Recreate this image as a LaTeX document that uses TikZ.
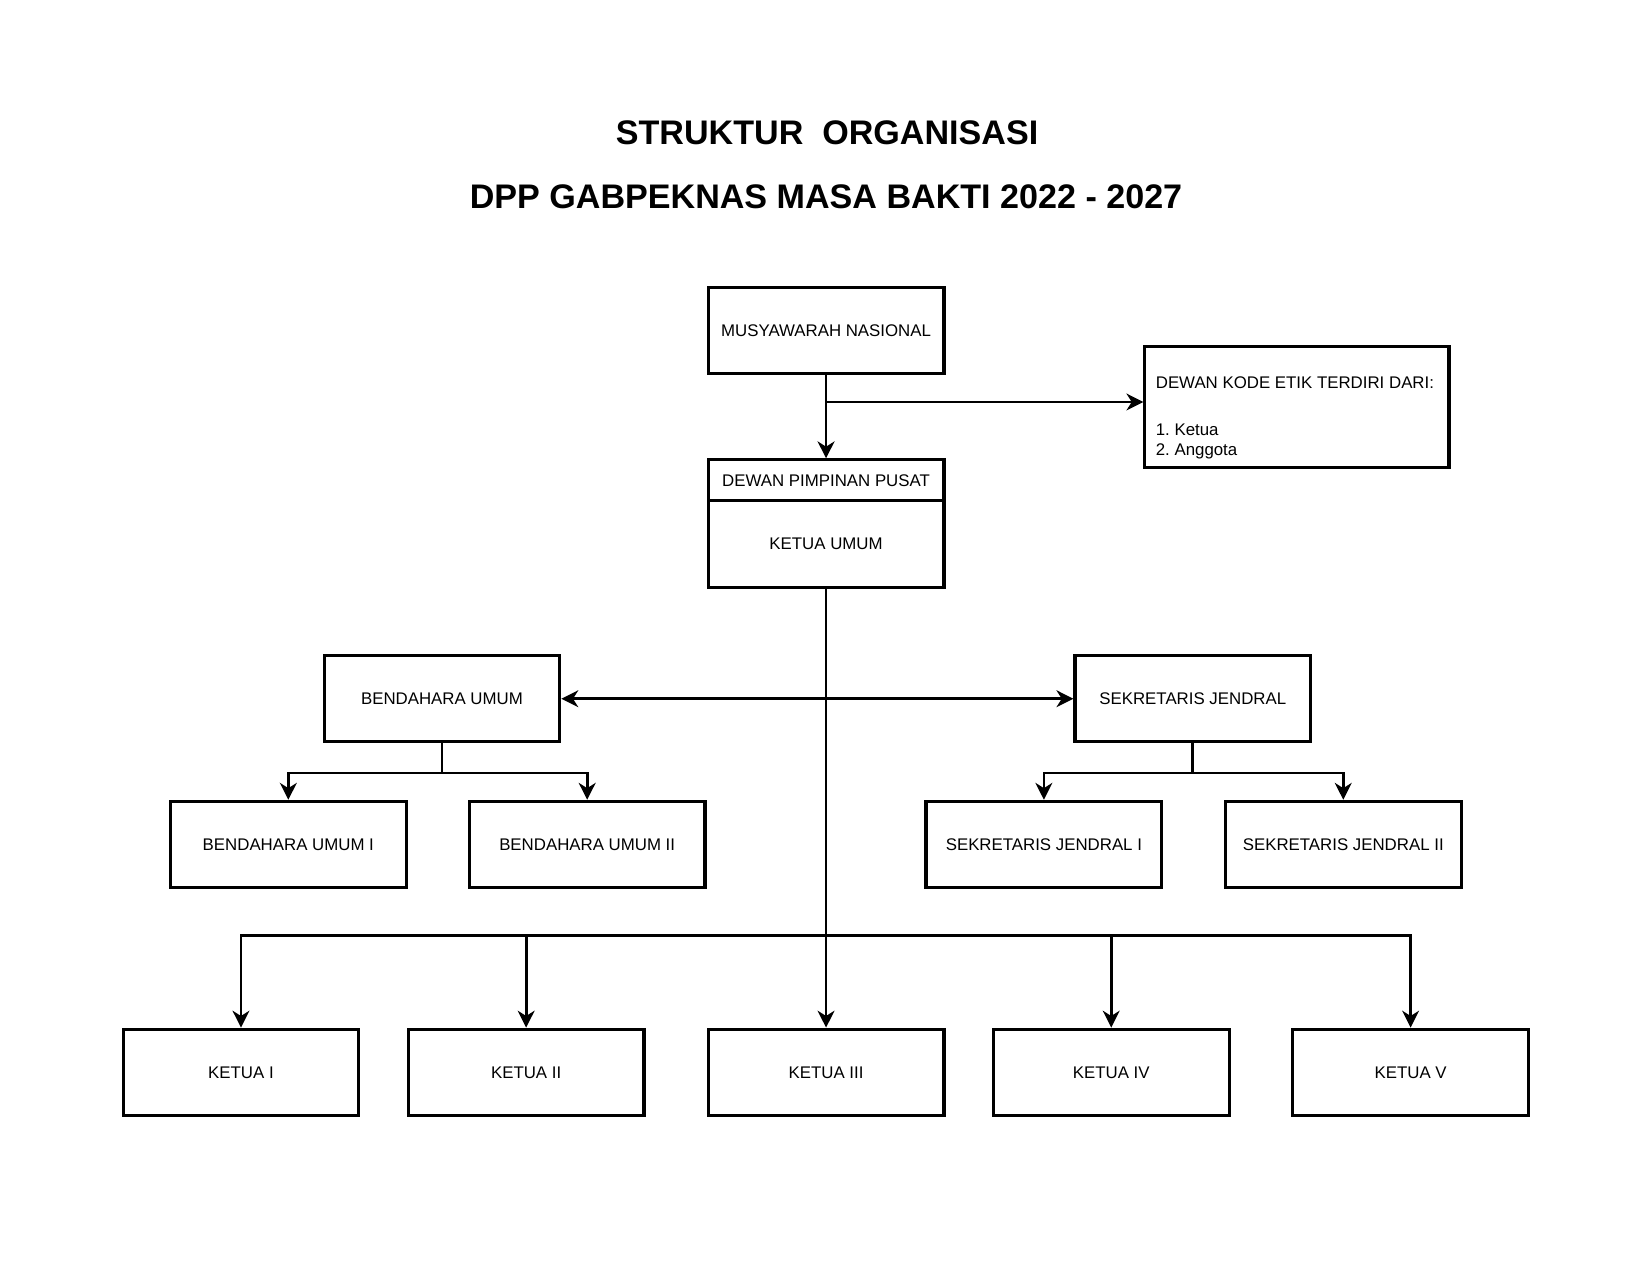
\documentclass[tikz,border=0pt]{standalone}
\usepackage{fontspec}
\setmainfont{Liberation Sans}
\usetikzlibrary{arrows.meta}

\begin{document}
\begin{tikzpicture}[x=0.5pt,y=-0.5pt,
		>={Stealth[length=8pt,width=8pt,inset=2.5pt]},
		box/.style={draw, line width=1.5pt, minimum width=112pt, minimum height=41pt,
			inner sep=0pt, font=\fontsize{8}{9.5}\selectfont},
		title/.style={anchor=base, font=\fontsize{16.2}{19}\selectfont\bfseries},
		arr/.style={line width=1.3pt, ->}]
		\useasboundingbox (0,0) rectangle (1568,1211.6);
		\node[title] (t1) at (786,137) {STRUKTUR\ \ ORGANISASI};
		\node[title] (t2) at (785,198) {DPP GABPEKNAS MASA BAKTI 2022 - 2027};
		\node[box] (mus) at (785,314) {MUSYAWARAH NASIONAL};
		\node[box, minimum width=144.5pt, minimum height=57.5pt] (etik) at (1232.5,386.5) {};
		\node[anchor=north west, inner sep=0pt, align=left, font=\fontsize{8}{9.5}\selectfont]
			(etiktxt) at (1098,357.3) {DEWAN KODE ETIK TERDIRI DARI:\\[13pt]1.\ Ketua\\2.\ Anggota};
		\node[box, minimum height=19.5pt] (dpp) at (785,456.5) {DEWAN PIMPINAN PUSAT};
		\node[box] (ketum) at (785,517) {KETUA UMUM};
		\node[box] (bend) at (420,664) {BENDAHARA UMUM};
		\node[box] (sek) at (1133.5,664) {SEKRETARIS JENDRAL};
		\node[box] (bend1) at (274,802.5) {BENDAHARA UMUM I};
		\node[box] (bend2) at (558,802.5) {BENDAHARA UMUM II};
		\node[box] (sek1) at (992,802.5) {SEKRETARIS JENDRAL I};
		\node[box] (sek2) at (1276.5,802.5) {SEKRETARIS JENDRAL II};
		\node[box] (ketua1) at (229,1019) {KETUA I};
		\node[box] (ketua2) at (500,1019) {KETUA II};
		\node[box] (ketua3) at (785,1019) {KETUA III};
		\node[box] (ketua4) at (1056,1019) {KETUA IV};
		\node[box] (ketua5) at (1340.5,1019) {KETUA V};
		\coordinate (split) at (785,382);
		\coordinate (bus) at (785,889);
		\draw[arr] (mus) -- (dpp);
		\draw[arr] (split) -- (split -| etik.west);
		\draw[arr] (ketum) -- (ketua3);
		\draw[arr, <->] (bend) -- (sek);
		\foreach \n in {bend1,bend2}
			\draw[arr] (bend.south) -- ++(0,28) -| (\n);
		\foreach \n in {sek1,sek2}
			\draw[arr] (sek.south) -- ++(0,28) -| (\n);
		\foreach \n in {ketua1,ketua2,ketua4,ketua5}
			\draw[arr] (bus) -| (\n);
	\end{tikzpicture}
\end{document}
